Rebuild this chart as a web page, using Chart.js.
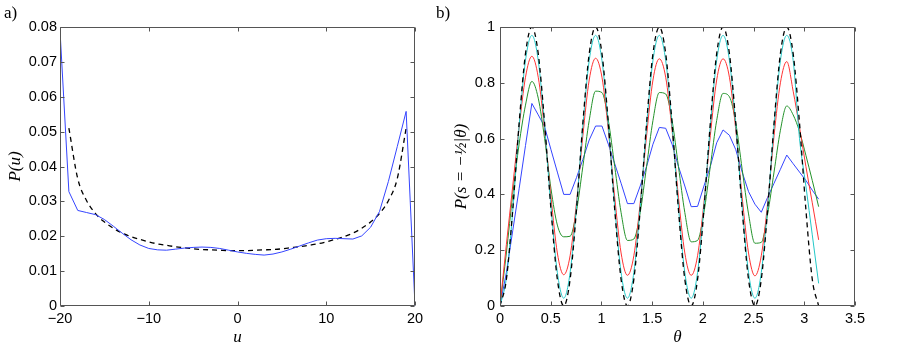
<!DOCTYPE html>
<html>
<head>
<meta charset="utf-8">
<script src="https://cdn.jsdelivr.net/npm/chart.js@4.4.1/dist/chart.umd.min.js"></script>
<style>
  html, body { margin: 0; padding: 0; background: #fff; }
  #wrap { position: relative; width: 900px; height: 348px; }
  canvas { position: absolute; top: 0; }
  .tag { position: absolute; top: 4px; font: 17px 'Liberation Serif', serif; line-height: 17px; color: #000; }
</style>
</head>
<body>
<div id="wrap">
  <canvas id="pu" width="450" height="348" style="left:0"></canvas>
  <canvas id="ps" width="450" height="348" style="left:450px"></canvas>
  <div class="tag" style="left:4px">a)</div>
  <div class="tag" style="left:436px">b)</div>
</div>
<script>
// panel a) — P(u), simulation vs theory
const uVals = [-20, -19, -18, -17, -16, -15, -14, -13, -12, -11, -10, -9, -8, -7, -6, -5, -4, -3, -2, -1,
    0, 1, 2, 3, 4, 5, 6, 7, 8, 9, 10, 11, 12, 13, 14, 15, 16, 17, 18, 19, 20];
const puSim = [0.0790, 0.0328, 0.0274, 0.0268, 0.0262, 0.0248, 0.0229, 0.0209, 0.0190, 0.0175,
    0.0165, 0.0161, 0.0160, 0.0163, 0.0166, 0.0168, 0.0169, 0.0168, 0.0165, 0.0160,
    0.0155, 0.0151, 0.0148, 0.0146, 0.0149, 0.0155, 0.0163, 0.0172, 0.0181, 0.0189,
    0.0193, 0.0194, 0.0193, 0.0192, 0.0201, 0.0226, 0.0271, 0.0357, 0.0457, 0.0558, 0];
const uTheory = [-19, -18, -17, -16, -15, -14, -13, -12, -11, -10, -9, -8, -7, -6, -5, -4, -3, -2, -1,
    0, 1, 2, 3, 4, 5, 6, 7, 8, 9, 10, 11, 12, 13, 14, 15, 16, 17, 18, 19];
const puTheory = [0.0510, 0.0365, 0.0302, 0.0265, 0.0241, 0.0223, 0.0209, 0.0199, 0.0191, 0.0184,
    0.0178, 0.0174, 0.0170, 0.0167, 0.0164, 0.0162, 0.0161, 0.0160, 0.0159, 0.0159,
    0.0159, 0.0160, 0.0161, 0.0162, 0.0164, 0.0167, 0.0170, 0.0174, 0.0178, 0.0184,
    0.0191, 0.0199, 0.0209, 0.0223, 0.0241, 0.0265, 0.0302, 0.0365, 0.0510];

// panel b) — P(s = -1/2 | theta)
const thetaVals = [0, 0.0628, 0.1257, 0.1885, 0.2513, 0.3142, 0.3770, 0.4398, 0.5027, 0.5655,
    0.6283, 0.6912, 0.7540, 0.8168, 0.8796, 0.9425, 1.0053, 1.0681, 1.1310, 1.1938,
    1.2566, 1.3195, 1.3823, 1.4451, 1.5080, 1.5708, 1.6336, 1.6965, 1.7593, 1.8221,
    1.8850, 1.9478, 2.0106, 2.0735, 2.1363, 2.1991, 2.2619, 2.3248, 2.3876, 2.4504,
    2.5133, 2.5761, 2.6389, 2.7018, 2.7646, 2.8274, 2.8903, 2.9531, 3.0159, 3.0788, 3.1416];
const psTheory = [0, 0.0955, 0.3455, 0.6545, 0.9045, 1, 0.9045, 0.6545, 0.3455, 0.0955,
    0, 0.0955, 0.3455, 0.6545, 0.9045, 1, 0.9045, 0.6545, 0.3455, 0.0955,
    0, 0.0955, 0.3455, 0.6545, 0.9045, 1, 0.9045, 0.6545, 0.3455, 0.0955,
    0, 0.0955, 0.3455, 0.6545, 0.9045, 1, 0.9045, 0.6545, 0.3455, 0.0955,
    0, 0.0955, 0.3455, 0.6545, 0.9045, 1, 0.9045, 0.6545, 0.3455, 0.0955, 0];
const psCyan = [0, 0.10, 0.34, 0.645, 0.88, 0.97, 0.88, 0.645, 0.355, 0.12,
    0.028, 0.12, 0.355, 0.645, 0.88, 0.97, 0.88, 0.645, 0.355, 0.12,
    0.028, 0.12, 0.355, 0.645, 0.88, 0.97, 0.88, 0.645, 0.355, 0.12,
    0.028, 0.12, 0.355, 0.645, 0.88, 0.97, 0.88, 0.645, 0.355, 0.12,
    0.028, 0.12, 0.355, 0.645, 0.88, 0.97, 0.88, 0.60, 0.43, 0.255, 0.081];
const psRed = [0, 0.22, 0.43, 0.64, 0.82, 0.895, 0.82, 0.63, 0.39, 0.19,
    0.112, 0.18, 0.37, 0.61, 0.81, 0.888, 0.82, 0.63, 0.39, 0.19,
    0.11, 0.18, 0.37, 0.61, 0.81, 0.886, 0.82, 0.63, 0.39, 0.19,
    0.11, 0.18, 0.37, 0.61, 0.81, 0.886, 0.82, 0.63, 0.39, 0.19,
    0.108, 0.18, 0.37, 0.61, 0.80, 0.876, 0.77, 0.64, 0.50, 0.37, 0.237];
const psGreen = [0, 0.19, 0.40, 0.58, 0.72, 0.805, 0.745, 0.60, 0.42, 0.29,
    0.248, 0.25, 0.34, 0.50, 0.665, 0.77, 0.765, 0.665, 0.50, 0.335,
    0.235, 0.24, 0.335, 0.50, 0.665, 0.765, 0.76, 0.665, 0.50, 0.335,
    0.23, 0.235, 0.335, 0.50, 0.665, 0.762, 0.75, 0.655, 0.49, 0.33,
    0.225, 0.228, 0.33, 0.48, 0.63, 0.717, 0.685, 0.625, 0.54, 0.45, 0.356];
const psBlue = [0, 0.12, 0.27, 0.42, 0.575, 0.726, 0.685, 0.643, 0.56, 0.48,
    0.40, 0.40, 0.46, 0.525, 0.595, 0.645, 0.645, 0.58, 0.51, 0.44,
    0.367, 0.367, 0.43, 0.50, 0.58, 0.64, 0.637, 0.58, 0.50, 0.43,
    0.356, 0.357, 0.43, 0.50, 0.585, 0.631, 0.612, 0.56, 0.48, 0.41,
    0.365, 0.336, 0.39, 0.44, 0.49, 0.541, 0.51, 0.48, 0.45, 0.415, 0.383];

const pts = (xs, ys) => xs.map((x, i) => ({ x, y: ys[i] }));
const minus = (v) => String(v).replace('-', '\u2212');

const tickFont = { family: "'Liberation Sans', Arial, sans-serif", size: 14.5 };
const labelFont = { family: "'Liberation Serif', serif", size: 17, style: 'italic' };

// MATLAB-style box with inward ticks on all four sides
const boxTicks = {
    id: 'boxTicks',
    afterDraw(chart) {
        const { ctx, chartArea: a, scales: { x, y } } = chart;
        const len = 4;
        const l = Math.round(a.left) + 0.5, r = Math.round(a.right) - 0.5;
        const t = Math.round(a.top) + 0.5, b = Math.round(a.bottom) - 0.5;
        ctx.save();
        ctx.strokeStyle = '#555';
        ctx.lineWidth = 1;
        ctx.beginPath();
        x.ticks.forEach((tk) => {
            const px = Math.round(x.getPixelForValue(tk.value)) + 0.5;
            ctx.moveTo(px, b); ctx.lineTo(px, b - len);
            ctx.moveTo(px, t); ctx.lineTo(px, t + len);
        });
        y.ticks.forEach((tk) => {
            const py = Math.round(y.getPixelForValue(tk.value)) + 0.5;
            ctx.moveTo(l, py); ctx.lineTo(l + len, py);
            ctx.moveTo(r, py); ctx.lineTo(r - len, py);
        });
        ctx.rect(l, t, r - l, b - t);
        ctx.stroke();
        ctx.restore();
    },
};

function line(data, color, extra) {
    return Object.assign({
        data,
        borderColor: color,
        borderWidth: 1,
        pointRadius: 0,
        fill: false,
        tension: 0,
    }, extra || {});
}

function makeChart(id, datasets, xOpt, yOpt, yWidth, padRight, xTitle, yTitle, yTitlePad, yTickPad) {
    return new Chart(document.getElementById(id), {
        type: 'line',
        data: { datasets },
        options: {
            responsive: false,
            animation: false,
            devicePixelRatio: 1,
            layout: { padding: { left: 0, right: padRight, top: 27, bottom: 0 } },
            plugins: { legend: { display: false }, tooltip: { enabled: false } },
            scales: {
                x: Object.assign({
                    type: 'linear',
                    grid: { display: false, drawTicks: false },
                    border: { display: false },
                    ticks: { color: '#000', font: tickFont, padding: 4, maxRotation: 0 },
                    title: { display: true, text: xTitle, color: '#000', font: labelFont, padding: { top: 0, bottom: 0 } },
                    afterFit: (s) => { s.height = 42; },
                }, xOpt),
                y: Object.assign({
                    grid: { display: false, drawTicks: false },
                    border: { display: false },
                    ticks: { color: '#000', font: tickFont, padding: yTickPad },
                    title: { display: true, text: yTitle, color: '#000', font: labelFont, padding: { top: yTitlePad, bottom: 0 } },
                    afterFit: (s) => { s.width = yWidth; },
                }, yOpt),
            },
        },
        plugins: [boxTicks],
    });
}

document.addEventListener('DOMContentLoaded', () => {
    makeChart('pu', [
        line(pts(uVals, puSim), '#3444ff'),
        line(pts(uTheory, puTheory), '#000', { borderDash: [5, 4], borderWidth: 1.3, cubicInterpolationMode: 'monotone' }),
    ], {
        min: -20, max: 20,
        ticks: { color: '#000', font: tickFont, padding: 4, maxRotation: 0, stepSize: 10, callback: (v) => minus(v) },
    }, {
        min: 0, max: 0.08,
        ticks: { color: '#000', font: tickFont, padding: 3, stepSize: 0.01, callback: (v) => (v === 0 ? '0' : v.toFixed(2)) },
    }, 60, 35, 'u', 'P(u)', 5, 3);

    makeChart('ps', [
        line(pts(thetaVals, psTheory), '#000', { borderDash: [5, 4], borderWidth: 1.3, cubicInterpolationMode: 'monotone' }),
        line(pts(thetaVals, psCyan), '#22c8c8', { cubicInterpolationMode: 'monotone' }),
        line(pts(thetaVals, psRed), '#ff3333', { cubicInterpolationMode: 'monotone' }),
        line(pts(thetaVals, psGreen), '#23922a', { cubicInterpolationMode: 'monotone' }),
        line(pts(thetaVals, psBlue), '#3444ff'),
    ], {
        min: 0, max: 3.5,
        ticks: { color: '#000', font: tickFont, padding: 4, maxRotation: 0, stepSize: 0.5, callback: (v) => String(+v.toFixed(1)) },
    }, {
        min: 0, max: 1,
        ticks: { color: '#000', font: tickFont, padding: 5, stepSize: 0.2, callback: (v) => String(+v.toFixed(1)) },
    }, 50, 45, '\u03b8', 'P(s = \u2212\u00bd|\u03b8)', 1, 5);
});
</script>
</body>
</html>
